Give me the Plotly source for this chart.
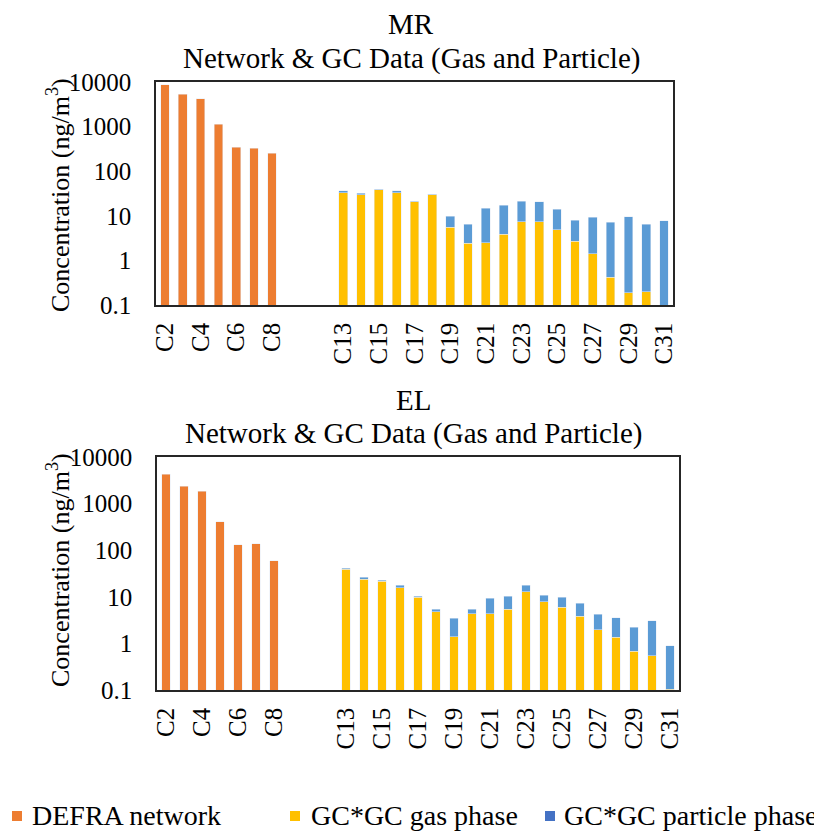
import plotly.graph_objects as go

categories = ["C2", "C3", "C4", "C5", "C6", "C7", "C8", " ", "  ", "   ",
              "C13", "C14", "C15", "C16", "C17", "C18", "C19", "C20", "C21", "C22",
              "C23", "C24", "C25", "C26", "C27", "C28", "C29", "C30", "C31"]
tick_labels = ["C2", "C4", "C6", "C8", "C13", "C15", "C17", "C19", "C21",
               "C23", "C25", "C27", "C29", "C31"]

# MR site
mr_defra = [8570, 5380, 4160, 1140, 344, 326, 252] + [None] * 22
mr_gas = [None] * 10 + [33, 29.3, 38.5, 32.5, 20.4, 29.3, 5.6, 2.4, 2.5, 3.85,
                        7.4, 7.4, 4.9, 2.7, 1.42, 0.42, 0.186, 0.199, None]
mr_total = [None] * 10 + [36, 31.9, 39.9, 36.5, 21.1, 30.8, 9.7, 6.5, 14.7, 17.2,
                          21.1, 20.4, 14.0, 8.05, 9.25, 7.15, 9.5, 6.5, 7.65]

# EL site
el_defra = [4315, 2350, 1864, 403, 131, 136, 58.7] + [None] * 22
el_gas = [None] * 10 + [38.9, 23.7, 21.5, 15.7, 9.9, 4.72, 1.39, 4.34, 4.34, 5.47,
                        12.9, 7.85, 6.04, 3.87, 1.97, 1.37, 0.687, 0.546, 0.104]
el_total = [None] * 10 + [41.5, 26.6, 22.9, 17.6, 10.4, 5.47, 3.45, 5.38, 9.27, 10.4,
                          17.6, 10.9, 9.75, 7.25, 4.21, 3.56, 2.21, 3.03, 0.88]

series_names = ["DEFRA network", "GC*GC gas phase", "GC*GC particle phase"]
site_titles = ["MR", "EL"]


def particle(total, gas):
    out = []
    for t, g in zip(total, gas):
        if t is None:
            out.append(None)
        else:
            out.append(t - (g or 0))
    return out


ORANGE = "#ED7D31"
YELLOW = "#FFC000"
BLUE_BAR = "#5B9BD5"
BLUE_LEG = "#4472C4"
FONT = "Liberation Serif"

W, H = 822, 832
OFF = 8  # page body margin

fig = go.Figure()

sites = [(mr_defra, mr_gas, mr_total), (el_defra, el_gas, el_total)]
for i, (defra, gas, total) in enumerate(sites):
    xa = "x" if i == 0 else "x2"
    ya = "y" if i == 0 else "y2"
    fig.add_trace(go.Bar(x=categories, y=defra, marker_color=ORANGE, xaxis=xa, yaxis=ya,
                         showlegend=False, name=series_names[0]))
    fig.add_trace(go.Bar(x=categories, y=gas, marker_color=YELLOW, xaxis=xa, yaxis=ya,
                         showlegend=False, name=series_names[1]))
    fig.add_trace(go.Bar(x=categories, y=particle(total, gas), marker_color=BLUE_BAR,
                         xaxis=xa, yaxis=ya, showlegend=False, name=series_names[2]))


def px_x(v):
    return (v - OFF) / W


def px_y(v):
    return 1 - (v - OFF) / H


axis_common = dict(showline=True, linecolor="#262626", linewidth=1.5, mirror=True,
                   showgrid=False, zeroline=False, automargin=False)
xtick = dict(type="category", categoryorder="array", categoryarray=categories,
             tickmode="array", tickvals=tick_labels, ticktext=tick_labels,
             tickangle=-90, ticks="", tickfont=dict(size=25, family=FONT),
             ticklabelstandoff=6)
ytick = dict(type="log", range=[-1, 4], tickmode="array",
             tickvals=[0.1, 1, 10, 100, 1000, 10000],
             ticktext=["0.1", "1", "10", "100", "1000", "10000"],
             ticks="", tickfont=dict(size=25, family=FONT), ticklabelstandoff=18)

fig.update_layout(
    width=W, height=H,
    margin=dict(l=0, r=0, t=0, b=0, autoexpand=False),
    paper_bgcolor="white", plot_bgcolor="white",
    barmode="stack", bargap=0.51,
    font=dict(family=FONT, color="black"),
    showlegend=False,
    xaxis=dict(domain=[px_x(156), px_x(673)], anchor="y", **xtick, **axis_common),
    yaxis=dict(domain=[px_y(305), px_y(82)], anchor="x", **ytick, **axis_common),
    xaxis2=dict(domain=[px_x(157), px_x(679)], anchor="y2", **xtick, **axis_common),
    yaxis2=dict(domain=[px_y(690), px_y(457)], anchor="x2", **ytick, **axis_common),
)

annotations = []
for title, cx, y1, y2, ymid in [(site_titles[0], 411, 24, 58, 195),
                                 (site_titles[1], 413, 400, 433, 570)]:
    annotations.append(dict(text=title, x=px_x(cx), y=px_y(y1), xref="paper", yref="paper",
                            showarrow=False, xanchor="center", yanchor="middle",
                            font=dict(size=29, family=FONT)))
    annotations.append(dict(text="Network & GC Data (Gas and Particle)", x=px_x(cx),
                            y=px_y(y2), xref="paper", yref="paper", showarrow=False,
                            xanchor="center", yanchor="middle",
                            font=dict(size=29, family=FONT)))
    annotations.append(dict(text="Concentration (ng/m<sup>3</sup>)", x=px_x(58),
                            y=px_y(ymid), xref="paper", yref="paper", showarrow=False,
                            textangle=-90, xanchor="center", yanchor="middle",
                            font=dict(size=26, family=FONT)))

# legend (drawn as swatches + text)
shapes = []
legend_y = 815
for name, col, sx, tx in zip(series_names, [ORANGE, YELLOW, BLUE_LEG],
                             [12, 290, 545], [30, 309, 562]):
    shapes.append(dict(type="rect", xref="paper", yref="paper",
                       x0=px_x(sx), x1=px_x(sx + 10),
                       y0=px_y(legend_y + 6), y1=px_y(legend_y - 4),
                       fillcolor=col, line=dict(width=0)))
    annotations.append(dict(text=name, x=px_x(tx), y=px_y(legend_y), xref="paper",
                            yref="paper", showarrow=False, xanchor="left",
                            yanchor="middle", font=dict(size=28, family=FONT)))

fig.update_layout(annotations=annotations, shapes=shapes)

fig.write_html("out.html")
